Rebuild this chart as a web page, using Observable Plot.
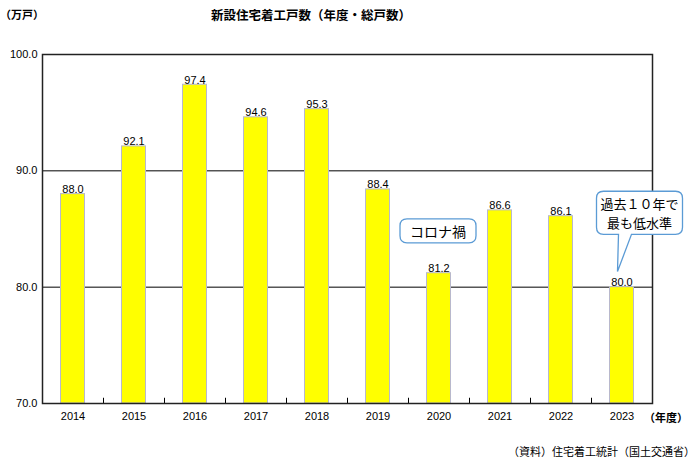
<!DOCTYPE html>
<html><head><meta charset="utf-8">
<script src="https://cdn.jsdelivr.net/npm/d3@7"></script>
<script src="https://cdn.jsdelivr.net/npm/@observablehq/plot@0.6"></script>
<style>
body{margin:0;background:#fff;}
#wrap{position:relative;width:698px;height:466px;font-family:"Liberation Sans",Arial,sans-serif;}
.t{position:absolute;font-family:"Noto Sans CJK JP",sans-serif;color:#000;white-space:nowrap;}
</style></head>
<body><div id="wrap"></div>
<script>
const years = ["2014","2015","2016","2017","2018","2019","2020","2021","2022","2023"];
const values = [88.0, 92.1, 97.4, 94.6, 95.3, 88.4, 81.2, 86.6, 86.1, 80.0];
const yTicks = [70, 80, 90, 100];
const gridLines = [80, 90];
const titleText = "新設住宅着工戸数（年度・総戸数）";
const unitText = "（万戸）";
const xUnitText = "（年度）";
const sourceText = "（資料）住宅着工統計（国土交通省）";
const note1 = "コロナ禍";
const note2 = ["過去１０年で", "最も低水準"];

const data = years.map((y, i) => ({year: y, value: values[i]}));
const W = 698, H = 466, mL = 42, mR = 46, mT = 54, mB = 63;
const step = (W - mL - mR) / years.length;

const plot = Plot.plot({
  width: W, height: H,
  marginLeft: mL, marginRight: mR, marginTop: mT, marginBottom: mB,
  style: {fontFamily: "Liberation Sans, Arial, sans-serif", fontSize: "11px", background: "#fff", color: "#000"},
  x: {domain: years, padding: 0, label: null, tickSize: 0, tickPadding: 9},
  y: {domain: [70, 100], ticks: yTicks, tickFormat: d3.format(".1f"), label: null, tickSize: 0, tickPadding: 5},
  marks: [
    Plot.ruleY(gridLines, {stroke: "#000", strokeWidth: 1}),
    Plot.barY(data, {x: "year", y1: 70, y2: "value", fill: "#ffff00", stroke: "#b8b8cc", strokeWidth: 1, insetLeft: 18.5, insetRight: 18.5}),
    Plot.text(data, {x: "year", y: "value", text: d => d3.format(".1f")(d.value), lineAnchor: "bottom", dy: -1, fontSize: 11, fill: "#000"}),
    Plot.ruleX(years.slice(1), {x: d => d, y1: 70, y2: 70.45, dx: -step / 2, stroke: "#000"}),
    Plot.frame({stroke: "#222", strokeWidth: 1.5})
  ]
});
document.getElementById("wrap").appendChild(plot);

// annotations positioned through the scales
const xs = plot.scale("x"), ys = plot.scale("y");
const svg = d3.select(plot);
const cx = yr => xs.apply(yr) + step / 2;
function roundBox(x0, y0, w, h, tail) {
  const g = svg.append("g");
  const r = 7;
  let p;
  if (tail) {
    const [tx, ty, b1, b2] = tail;
    p = `M${x0+r},${y0} H${x0+w-r} Q${x0+w},${y0} ${x0+w},${y0+r} V${y0+h-r} Q${x0+w},${y0+h} ${x0+w-r},${y0+h} H${b2} L${tx},${ty} L${b1},${y0+h} H${x0+r} Q${x0},${y0+h} ${x0},${y0+h-r} V${y0+r} Q${x0},${y0} ${x0+r},${y0} Z`;
  } else {
    p = `M${x0+r},${y0} H${x0+w-r} Q${x0+w},${y0} ${x0+w},${y0+r} V${y0+h-r} Q${x0+w},${y0+h} ${x0+w-r},${y0+h} H${x0+r} Q${x0},${y0+h} ${x0},${y0+h-r} V${y0+r} Q${x0},${y0} ${x0+r},${y0} Z`;
  }
  g.append("path").attr("d", p).attr("fill", "#fff").attr("stroke", "#5b9bd5").attr("stroke-width", 1.3);
  return g;
}
// コロナ禍
{
  const c = cx("2020") - 0.5, yc = ys.apply(84.8);
  const g = roundBox(c - 38, yc - 12, 76, 24);
  g.append("text").attr("x", c).attr("y", yc).attr("text-anchor", "middle").attr("dominant-baseline", "central")
    .attr("font-family", "Noto Sans CJK JP, sans-serif").attr("font-size", 14).text(note1);
}
// callout
{
  const c = cx("2023") + 18, top = ys.apply(88.2), bot = ys.apply(84.5);
  const tx = cx("2023") - 4, ty = ys.apply(81.3);
  const g = roundBox(c - 43, top, 86, bot - top, [tx, ty, c - 21, c - 8]);
  g.append("text").attr("x", c).attr("y", top + 12.5).attr("text-anchor", "middle").attr("dominant-baseline", "central")
    .attr("font-family", "Noto Sans CJK JP, sans-serif").attr("font-size", 13).text(note2[0]);
  g.append("text").attr("x", c).attr("y", top + 31).attr("text-anchor", "middle").attr("dominant-baseline", "central")
    .attr("font-family", "Noto Sans CJK JP, sans-serif").attr("font-size", 13).text(note2[1]);
}

const wrap = document.getElementById("wrap");
function addText(txt, css) { const d = document.createElement("div"); d.className = "t"; d.textContent = txt; Object.assign(d.style, css); wrap.appendChild(d); }
addText(titleText, {left: "211px", top: "5px", fontSize: "12.5px", fontWeight: "bold"});
addText(unitText, {left: "0px", top: "6px", fontSize: "11px", fontWeight: "bold"});
addText(xUnitText, {left: "644px", top: "409px", fontSize: "11px", fontWeight: "bold"});
addText(sourceText, {left: "508px", top: "443px", fontSize: "11px"});
</script></body></html>
